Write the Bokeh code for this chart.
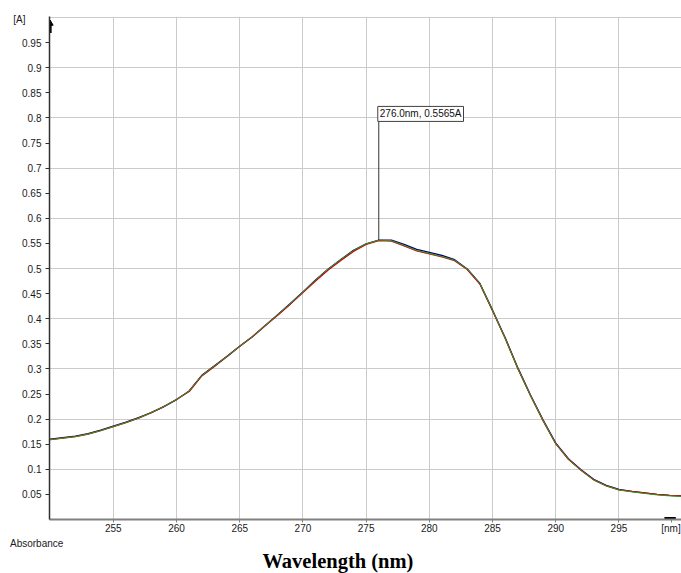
from bokeh.plotting import figure
from bokeh.models import FixedTicker, Label, Range1d, LinearAxis, Title
from bokeh.embed import file_html
from bokeh.resources import INLINE

# ---- data -------------------------------------------------------------
wavelength = list(range(250, 301))
abs_green = [0.159, 0.162, 0.165, 0.170, 0.177, 0.185, 0.193, 0.202, 0.213, 0.225,
             0.239, 0.256, 0.287, 0.306, 0.325, 0.345, 0.364, 0.386, 0.408, 0.430,
             0.453, 0.477, 0.499, 0.518, 0.536, 0.549, 0.5565, 0.5555, 0.546, 0.536,
             0.530, 0.524, 0.5165, 0.499, 0.470, 0.417, 0.361, 0.301, 0.247, 0.197,
             0.151, 0.120, 0.098, 0.079, 0.067, 0.059, 0.055, 0.052, 0.049, 0.047, 0.046]
abs_red = [0.159, 0.162, 0.165, 0.170, 0.177, 0.185, 0.193, 0.202, 0.213, 0.225,
           0.239, 0.255, 0.286, 0.305, 0.325, 0.345, 0.364, 0.386, 0.407, 0.429,
           0.452, 0.475, 0.497, 0.516, 0.534, 0.548, 0.5555, 0.5545, 0.545, 0.535,
           0.529, 0.523, 0.5155, 0.498, 0.469, 0.416, 0.361, 0.301, 0.247, 0.197,
           0.151, 0.120, 0.098, 0.079, 0.067, 0.059, 0.056, 0.053, 0.050, 0.048, 0.047]
abs_blue = [0.160, 0.163, 0.166, 0.171, 0.178, 0.186, 0.194, 0.203, 0.213, 0.225,
            0.239, 0.256, 0.287, 0.306, 0.325, 0.345, 0.364, 0.386, 0.408, 0.430,
            0.453, 0.477, 0.499, 0.518, 0.536, 0.549, 0.5565, 0.5565, 0.548, 0.538,
            0.532, 0.526, 0.5175, 0.499, 0.470, 0.417, 0.362, 0.302, 0.248, 0.198,
            0.152, 0.121, 0.099, 0.080, 0.068, 0.060, 0.056, 0.053, 0.050, 0.048, 0.047]

x_ticks = [255, 260, 265, 270, 275, 280, 285, 290, 295]
x_tick_labels = ["255", "260", "265", "270", "275", "280", "285", "290", "295"]
y_ticks = [0.05, 0.1, 0.15, 0.2, 0.25, 0.3, 0.35, 0.4, 0.45, 0.5,
           0.55, 0.6, 0.65, 0.7, 0.75, 0.8, 0.85, 0.9, 0.95]
y_tick_labels = ["0.05", "0.1", "0.15", "0.2", "0.25", "0.3", "0.35", "0.4", "0.45", "0.5",
                 "0.55", "0.6", "0.65", "0.7", "0.75", "0.8", "0.85", "0.9", "0.95"]
y_grid = [0.1, 0.2, 0.3, 0.4, 0.5, 0.6, 0.7, 0.8, 0.9, 1.0]

peak_nm = 276.0
peak_abs = 0.5565
peak_text = "276.0nm, 0.5565A"
box_abs = 0.793

x_title = "Wavelength (nm)"
y_unit = "[A]"
y_unit_pos = 0.997
x_unit = "[nm]"
x_unit_pos = 299.12
y_name = "Absorbance"

# ---- figure -----------------------------------------------------------
p = figure(width=681, height=573, output_backend="svg", toolbar_location=None,
           title=None,
           x_range=Range1d(249.95, 299.95), y_range=Range1d(0, 1.002),
           min_border_left=49, min_border_right=0, min_border_top=16,
           min_border_bottom=53)
p.outline_line_color = None
p.background_fill_color = "white"

p.xgrid.ticker = FixedTicker(ticks=x_ticks)
p.ygrid.ticker = FixedTicker(ticks=y_grid)
p.grid.grid_line_color = "#cbcbcb"
p.grid.grid_line_width = 1

lab_font = "Liberation Sans"

p.yaxis.ticker = FixedTicker(ticks=y_ticks)
p.yaxis.major_label_overrides = {t: s for t, s in zip(y_ticks, y_tick_labels)}
p.yaxis.axis_line_color = "#303030"
p.yaxis.axis_line_width = 1.5
p.yaxis.major_tick_line_color = "#303030"
p.yaxis.major_tick_in = 0
p.yaxis.major_tick_out = 4
p.yaxis.minor_tick_out = 0
p.yaxis.minor_tick_in = 0
p.yaxis.major_label_standoff = 4

xt = x_ticks + [x_unit_pos]
xl = x_tick_labels + [x_unit]
p.xaxis.ticker = FixedTicker(ticks=xt)
p.xaxis.major_label_overrides = {t: s for t, s in zip(xt, xl)}
p.xaxis.axis_line_color = "#808080"
p.xaxis.axis_line_width = 2
p.xaxis.major_tick_line_color = "#808080"
p.xaxis.major_tick_in = 0
p.xaxis.major_tick_out = 3
p.xaxis.minor_tick_out = 0
p.xaxis.minor_tick_in = 0
p.xaxis.major_label_standoff = 0

for ax in (p.xaxis, p.yaxis):
    ax.major_label_text_font = lab_font
    ax.major_label_text_font_size = "10px"
    ax.major_label_text_color = "#1a1a1a"

# unit label of the absorbance axis, as a second (bare) left axis
a_axis = LinearAxis(ticker=FixedTicker(ticks=[y_unit_pos]),
                    major_label_overrides={y_unit_pos: y_unit},
                    axis_line_color=None, major_tick_line_color=None,
                    minor_tick_line_color=None, major_tick_out=0, major_tick_in=0,
                    minor_tick_out=0, minor_tick_in=0, major_label_standoff=-6,
                    major_label_text_font=lab_font, major_label_text_font_size="10px",
                    major_label_text_color="#1a1a1a")
p.add_layout(a_axis, "left")

# texts under the x axis
p.add_layout(Title(text=y_name, align="left", offset=-39.5, standoff=0,
                   vertical_align="middle", text_font=lab_font,
                   text_font_size="10px", text_font_style="normal",
                   text_color="#1a1a1a"), "below")
p.add_layout(Title(text=x_title, align="left", offset=213, standoff=0,
                   vertical_align="top", text_font="Liberation Serif",
                   text_font_size="20.5px", text_font_style="bold",
                   text_color="black"), "below")

# ---- curves -----------------------------------------------------------
p.line(wavelength, abs_blue, line_color="#000080", line_width=1.4)
p.line(wavelength, abs_red, line_color="#e00000", line_width=1.3)
p.line(wavelength, abs_green, line_color="#22a022", line_width=1.0)

# ---- peak marker ------------------------------------------------------
p.segment(x0=[peak_nm], y0=[peak_abs], x1=[peak_nm], y1=[box_abs],
          line_color="#333333", line_width=1)
p.add_layout(Label(x=peak_nm, y=box_abs, text=peak_text, text_font=lab_font,
                   text_font_size="10px", text_color="#111111",
                   text_baseline="bottom", text_align="left", x_offset=-1,
                   padding=2, border_line_color="#404040", border_line_width=1,
                   background_fill_color="white"))

# ---- axis arrows ------------------------------------------------------
p.segment(x0=[250.0], y0=[0.969], x1=[250.0], y1=[0.987],
          line_color="black", line_width=3)
p.scatter(x=[250.0], y=[0.988], marker="triangle", size=6,
          fill_color="black", line_color="black")
p.segment(x0=[298.6], y0=[0.002], x1=[299.5], y1=[0.002],
          line_color="black", line_width=3)

open("out.html", "w").write(file_html(p, INLINE))
